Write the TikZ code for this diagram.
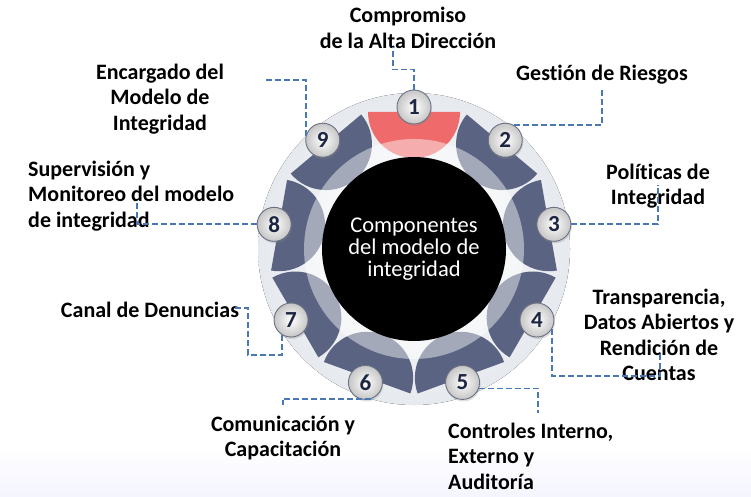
\documentclass[tikz,border=0pt]{standalone}
\usepackage{fontspec}
\setmainfont{Carlito}[Ligatures=NoCommon]
\usetikzlibrary{calc,shadows}
\definecolor{segblue}{HTML}{5A6482}
\definecolor{segred}{HTML}{EF6B6B}
\definecolor{linkblue}{HTML}{4A78B5}
\definecolor{numblue}{HTML}{1C2541}
\definecolor{discgray}{HTML}{E6E9EE}

\begin{document}
\begin{tikzpicture}[x=1pt,y=1pt,
        itemtext/.style={font=\fontsize{22}{25.5}\selectfont\bfseries, align=center, inner sep=0pt},
        link/.style={draw=linkblue, line width=1.8pt, dash pattern=on 6pt off 3pt},
        ball/.style={circle, minimum size=34pt, inner sep=0pt, inner color=white, outer color=gray!45,
            draw=numblue!65, line width=0.9pt, font=\fontsize{23}{23}\selectfont\bfseries, text=numblue,
            drop shadow={opacity=0.25, shadow xshift=1pt, shadow yshift=-2pt}}]
    \useasboundingbox (0,0) rectangle (751,496);
    \fill[top color=white, bottom color=blue!4] (0,0) rectangle (751,50);
    \coordinate (C) at (414,247);
    \fill[inner color=white, outer color=discgray] (C) circle (156);
    % segments
    \foreach \k/\col in {1/segred,2/segblue,3/segblue,4/segblue,5/segblue,6/segblue,7/segblue,8/segblue,9/segblue}{
        \pgfmathsetmacro{\a}{130-40*\k}
        \fill[\col] ($(C)+(\a:137)+(\a+90:46)$) arc[start angle=\a+90, delta angle=180, radius=46] -- cycle;
    }
    \fill[white, opacity=0.45] (C) circle (110);
    \node[circle, fill=black, minimum size=184pt, inner sep=0pt, text=white, align=center,
        font=\fontsize{22.5}{22}\selectfont] (core) at (C) {Componentes\\del modelo de\\integridad};
    \foreach \k in {1,...,9}{
        \pgfmathsetmacro{\a}{130-40*\k}
        \node[ball] (b\k) at ($(C)+(\a:142)$) {\k};
    }

    \node[itemtext] (t1) at (408,468) {Compromiso\\de la Alta Dirección};
    \node[itemtext] (t2) at (602,421) {Gestión de Riesgos};
    \node[itemtext] (t3) at (658,310) {Políticas de\\Integridad};
    \node[itemtext] (t4) at (659,161) {Transparencia,\\Datos Abiertos y\\Rendición de\\Cuentas};
    \node[itemtext, align=left, anchor=west] (t5) at (448,40) {Controles Interno,\\Externo y\\Auditoría};
    \node[itemtext] (t6) at (283,58) {Comunicación y\\Capacitación};
    \node[itemtext] (t7) at (150,186) {Canal de Denuncias};
    \node[itemtext, align=left, anchor=west] (t8) at (28,300) {Supervisión y\\Monitoreo del modelo\\de integridad};
    \node[itemtext] (t9) at (160,397) {Encargado del\\Modelo de\\Integridad};

    \coordinate (c1) at (393,449);
    \coordinate (c2) at (602,407);
    \coordinate (c3) at (658,311);
    \coordinate (c4) at (660,142);
    \coordinate (c5) at (538,83);
    \coordinate (c6) at (283,91);
    \coordinate (c7) at (233,188);
    \coordinate (c8) at (137,293);
    \coordinate (c9) at (263,416);
    \draw[link] (b1.north) -- ++(0,20) -| (c1);
    \draw[link] (b2.60) -| (c2);
    \draw[link] (b3.east) -| (c3);
    \draw[link] (b4.-30) -- ++(0,-47) -| (c4);
    \draw[link] (b5.-20) -| (c5);
    \draw[link] (b6.-70) -| (c6);
    \draw[link] (b7.-120) |- ++(-34,-20) |- (c7);
    \draw[link] (b8.west) -| (c8);
    \draw[link] (b9.165) |- (c9);
\end{tikzpicture}
\end{document}
